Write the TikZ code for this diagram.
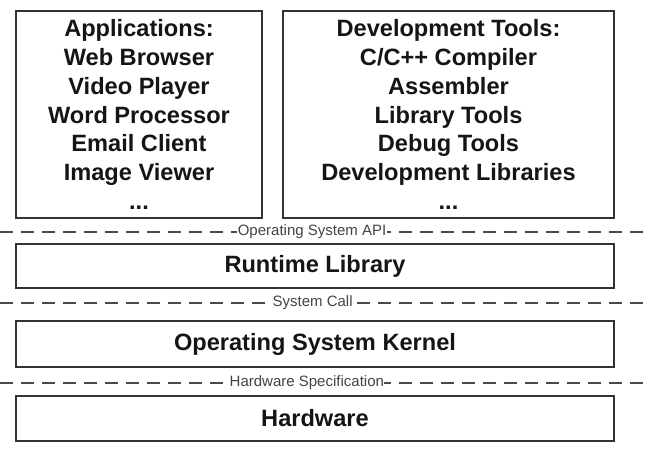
\documentclass[tikz,border=0pt]{standalone}
\usepackage{fontspec}
\setmainfont{Liberation Sans}
\definecolor{edge}{HTML}{333333}
\definecolor{sepc}{HTML}{4A4A4A}
\definecolor{ink}{HTML}{151515}
\begin{document}
\begin{tikzpicture}[x=1pt,y=-1pt,
  box/.style={draw=edge, line width=2pt, fill=white, text=ink, align=center, inner sep=0pt,
    font=\bfseries\fontsize{23.6}{28.9}\selectfont},
  sepline/.style={draw=sepc, line width=2.2pt, dash pattern=on 13pt off 8pt},
  lab/.style={fill=white, text=ink!80, inner xsep=0.5pt, inner ysep=1pt, font=\fontsize{15}{16}\selectfont}]
\useasboundingbox[fill=white] (0,0) rectangle (646,454);
\node[box, minimum width=246pt, minimum height=207pt] (apps) at (139,114.5)
  {Applications:\\Web Browser\\Video Player\\Word Processor\\Email Client\\Image Viewer\\...};
\node[box, minimum width=331pt, minimum height=207pt] (dev) at (448.5,114.5)
  {Development Tools:\\C/C++ Compiler\\Assembler\\Library Tools\\Debug Tools\\Development Libraries\\...};
\node[box, minimum width=598pt, minimum height=44pt] (rt) at (315,266) {Runtime Library};
\node[box, minimum width=598pt, minimum height=46pt] (kern) at (315,344) {Operating System Kernel};
\node[box, minimum width=598pt, minimum height=45pt] (hw) at (315,418.5) {Hardware};
\coordinate (a1) at (0,232); \coordinate (a2) at (646,232);
\coordinate (b1) at (0,303); \coordinate (b2) at (646,303);
\coordinate (c1) at (0,383); \coordinate (c2) at (646,383);
\draw[sepline] (a1) -- node[lab, pos=0.483] (apil) {Operating System API} (a2);
\draw[sepline] (b1) -- node[lab, pos=0.484] (scl) {System Call} (b2);
\draw[sepline] (c1) -- node[lab, pos=0.475] (hwl) {Hardware Specification} (c2);
\end{tikzpicture}
\end{document}
